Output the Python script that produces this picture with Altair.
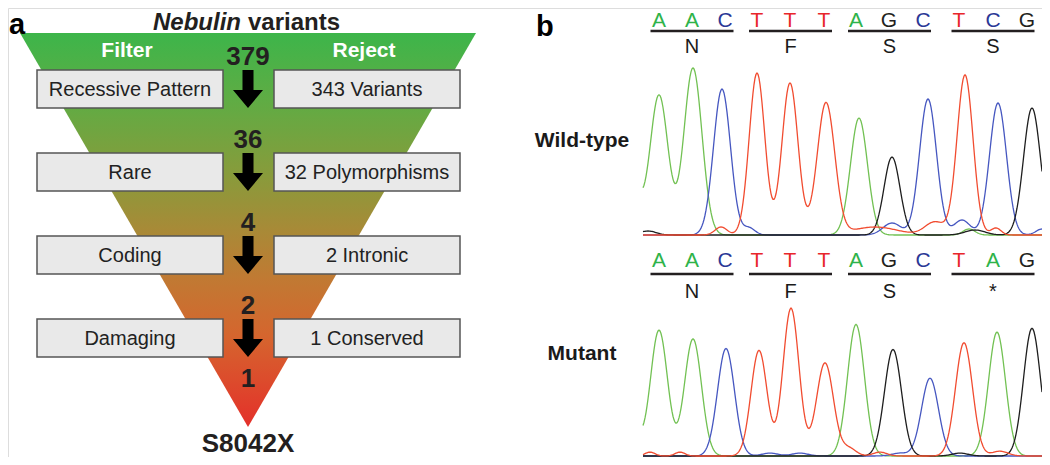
import altair as alt
import pandas as pd
import numpy as np

# ---------------- Panel a : filtering funnel ----------------
counts = [379, 36, 4, 2, 1]
filters = ["Recessive Pattern", "Rare", "Coding", "Damaging"]
rejects = ["343 Variants", "32 Polymorphisms", "2 Intronic", "1 Conserved"]
final_variant = "S8042X"
funnel_title = ["Nebulin", "variants"]
column_heads = ["Filter", "Reject"]

# ---------------- Panel b : chromatograms ----------------
wt_bases = list("AACTTTAGCTCG")
mut_bases = list("AACTTTAGCTAG")
wt_codons = ["N", "F", "S", "S"]
mut_codons = ["N", "F", "S", "*"]
# scan position of each called base
base_scan = [659, 692, 725, 757, 790, 824, 856, 889, 923, 959, 993, 1027]

# peaks: (scan position, signal, width)
wt_peaks = {
    "A": [(626, 110, 9), (659, 140, 9), (693, 167, 9), (859, 117, 8.5), (969, 6, 6)],
    "C": [(722, 146, 8.5), (749, 7, 6), (892, 12, 9), (928, 136, 8.5), (962, 15, 8),
          (998, 132, 8.5), (1042, 6, 6)],
    "G": [(648, 4, 8), (892, 78, 8), (975, 5, 10), (1032, 127, 8.5)],
    "T": [(721, 8, 6), (757, 162, 7.8), (790, 152, 8), (826, 132, 8.8), (875, 8, 22),
          (935, 13, 10), (965, 160, 8), (996, 7, 5)],
}
mut_peaks = {
    "A": [(625, 70, 9), (659, 131, 8.5), (693, 122, 8.5), (856, 137, 8.5), (997, 129, 8.5)],
    "C": [(726, 112, 8.5), (770, 3, 8), (800, 3, 8), (900, 3, 8), (930, 81, 8.5)],
    "G": [(893, 111, 8.5), (960, 3, 8), (1032, 133, 8.5)],
    "T": [(650, 4, 5), (680, 4, 5), (759, 110, 8), (791, 154, 8), (825, 97, 8.5),
          (849, 8, 7), (880, 4, 7), (964, 118, 8.5), (1000, 5, 8)],
}

letter_colors = {"A": "#2fb34a", "C": "#2b3896", "G": "#231f20", "T": "#e8262b"}
trace_colors = {"A": "#72c153", "C": "#4657c0", "G": "#1e1e1e", "T": "#f14c30"}

# ---------------- layout (pixels) ----------------
X0, X1, Y0, Y1 = 8, 1042, 8, 457
FONT = "Liberation Sans"


def X(f):
    return alt.X(f, type="quantitative", scale=alt.Scale(domain=[X0, X1], nice=False, zero=False), axis=None)


def Y(f):
    return alt.Y(f, type="quantitative",
                 scale=alt.Scale(domain=[Y0, Y1], nice=False, zero=False, reverse=True), axis=None)


layers = []

# funnel triangle
tri = pd.DataFrame({"x": [20, 248, 476], "y": [33, 33, 33], "y2": [33, 427, 33]})
grad = alt.LinearGradient(
    gradient="linear", x1=0, x2=0, y1=0, y2=1,
    stops=[
        alt.GradientStop(color="#3db54a", offset=0.0),
        alt.GradientStop(color="#5fac44", offset=0.17),
        alt.GradientStop(color="#889b3b", offset=0.36),
        alt.GradientStop(color="#a88a37", offset=0.5),
        alt.GradientStop(color="#c07a33", offset=0.62),
        alt.GradientStop(color="#d5652e", offset=0.77),
        alt.GradientStop(color="#e4302a", offset=1.0),
    ],
)
layers.append(alt.Chart(tri).mark_area(fill=grad, opacity=1, orient="vertical").encode(
    x=X("x"), y=Y("y"), y2=alt.Y2("y2")))

row_y = [89 + 83 * i for i in range(len(filters))]

# boxes
boxes = pd.DataFrame({
    "x": [37] * 4 + [274] * 4,
    "x2": [223] * 4 + [460] * 4,
    "y": [r - 19 for r in row_y] * 2,
    "y2": [r + 19 for r in row_y] * 2,
})
layers.append(alt.Chart(boxes).mark_rect(fill="#e9e9e9", stroke="#555555", strokeWidth=1.5).encode(
    x=X("x"), x2=alt.X2("x2"), y=Y("y"), y2=alt.Y2("y2")))

box_txt = pd.DataFrame({
    "x": [130] * 4 + [367] * 4,
    "y": [r + 7 for r in row_y] * 2,
    "t": filters + rejects,
})
layers.append(alt.Chart(box_txt).mark_text(font=FONT, fontSize=20, color="#222222",
                                           baseline="alphabetic", align="center").encode(
    x=X("x"), y=Y("y"), text="t"))

# arrows
arrow_path = "M-0.29,-1L0.29,-1L0.29,0.05L0.79,0.05L0,1L-0.79,0.05L-0.29,0.05Z"
arrows = pd.DataFrame({"x": [248] * 4, "y": row_y})
layers.append(alt.Chart(arrows).mark_point(shape=arrow_path, size=1444, filled=True,
                                           color="#000000", opacity=1, strokeWidth=0).encode(
    x=X("x"), y=Y("y")))

# counts
count_y = [r - 24 for r in row_y] + [row_y[-1] + 49]
cnt = pd.DataFrame({"x": [248] * 5, "y": count_y, "t": [str(c) for c in counts]})
layers.append(alt.Chart(cnt).mark_text(font=FONT, fontSize=26, fontWeight="bold", color="#231f20",
                                       baseline="alphabetic", align="center").encode(
    x=X("x"), y=Y("y"), text="t"))

# final variant below the apex
fin = pd.DataFrame({"x": [248], "y": [452], "t": [final_variant]})
layers.append(alt.Chart(fin).mark_text(font=FONT, fontSize=26, fontWeight="bold", color="#231f20",
                                       baseline="alphabetic", align="center").encode(
    x=X("x"), y=Y("y"), text="t"))

# column heads
heads = pd.DataFrame({"x": [127, 364], "y": [57, 57], "t": column_heads})
layers.append(alt.Chart(heads).mark_text(font=FONT, fontSize=21, fontWeight="bold", color="#ffffff",
                                         baseline="alphabetic", align="center").encode(
    x=X("x"), y=Y("y"), text="t"))

# title
t1 = pd.DataFrame({"x": [241], "y": [30], "t": [funnel_title[0]]})
t2 = pd.DataFrame({"x": [248], "y": [30], "t": [funnel_title[1]]})
layers.append(alt.Chart(t1).mark_text(font=FONT, fontSize=24, fontWeight="bold", fontStyle="italic",
                                      color="#231f20", baseline="alphabetic", align="right").encode(
    x=X("x"), y=Y("y"), text="t"))
layers.append(alt.Chart(t2).mark_text(font=FONT, fontSize=24, fontWeight="bold",
                                      color="#231f20", baseline="alphabetic", align="left").encode(
    x=X("x"), y=Y("y"), text="t"))

# panel letters
pl = pd.DataFrame({"x": [9, 536], "y": [34, 36], "t": ["a", "b"]})
layers.append(alt.Chart(pl).mark_text(font=FONT, fontSize=29, fontWeight="bold", color="#000000",
                                      baseline="alphabetic", align="left").encode(
    x=X("x"), y=Y("y"), text="t"))

# sample labels
sl = pd.DataFrame({"x": [582, 582], "y": [147, 360], "t": ["Wild-type", "Mutant"]})
layers.append(alt.Chart(sl).mark_text(font=FONT, fontSize=21, fontWeight="bold", color="#1a1a1a",
                                      baseline="alphabetic", align="center").encode(
    x=X("x"), y=Y("y"), text="t"))

# base calls, codon lines, amino acids
base_rows = []
for bases, yb in [(wt_bases, 27), (mut_bases, 267)]:
    for b, xp in zip(bases, base_scan):
        base_rows.append({"x": xp, "y": yb, "t": b, "c": letter_colors[b]})
layers.append(alt.Chart(pd.DataFrame(base_rows)).mark_text(
    font=FONT, fontSize=21, baseline="alphabetic", align="center").encode(
    x=X("x"), y=Y("y"), text="t", color=alt.Color("c:N", scale=None)))

codon_center = [(base_scan[3 * i] + base_scan[3 * i + 2]) / 2 for i in range(4)]
lines = []
for yl in [31, 274]:
    for cc in codon_center:
        lines.append({"x": cc - 41.5, "x2": cc + 41.5, "y": yl})
layers.append(alt.Chart(pd.DataFrame(lines)).mark_rule(color="#231f20", strokeWidth=2.5).encode(
    x=X("x"), x2=alt.X2("x2"), y=Y("y")))

aa_rows = []
for codons, ya in [(wt_codons, 53), (mut_codons, 298)]:
    for c, cc in zip(codons, codon_center):
        aa_rows.append({"x": cc, "y": ya, "t": c})
layers.append(alt.Chart(pd.DataFrame(aa_rows)).mark_text(
    font=FONT, fontSize=20, color="#1a1a1a", baseline="alphabetic", align="center").encode(
    x=X("x"), y=Y("y"), text="t"))

# traces (baseline, gain)
scan = np.arange(643, 1043, 1.0)
trace_rows = []
for sample, peaks, base, gain in [("wt", wt_peaks, 235, 1.0), ("mut", mut_peaks, 456, 0.96)]:
    for ch, plist in peaks.items():
        sig = np.zeros_like(scan)
        for p, h, s in plist:
            sig += h * np.exp(-((scan - p) ** 2) / (2 * s * s))
        for xv, sv in zip(scan, sig):
            trace_rows.append({"x": xv, "y": base - gain * sv, "ch": ch, "series": sample + ch})
tr = pd.DataFrame(trace_rows)
layers.append(alt.Chart(tr).mark_line(strokeWidth=1.3, clip=True).encode(
    x=X("x"), y=Y("y"),
    color=alt.Color("ch:N", scale=alt.Scale(domain=list(trace_colors.keys()),
                                            range=list(trace_colors.values())), legend=None),
    detail="series:N", order="x:Q"))

chart = alt.layer(*layers).properties(
    width=X1 - X0, height=Y1 - Y0, padding=0,
    autosize=alt.AutoSizeParams(type="none"),
).configure_view(strokeWidth=0, stroke="transparent").configure(background="#ffffff")

chart.save("out.html", embed_options={"renderer": "svg", "actions": False})
